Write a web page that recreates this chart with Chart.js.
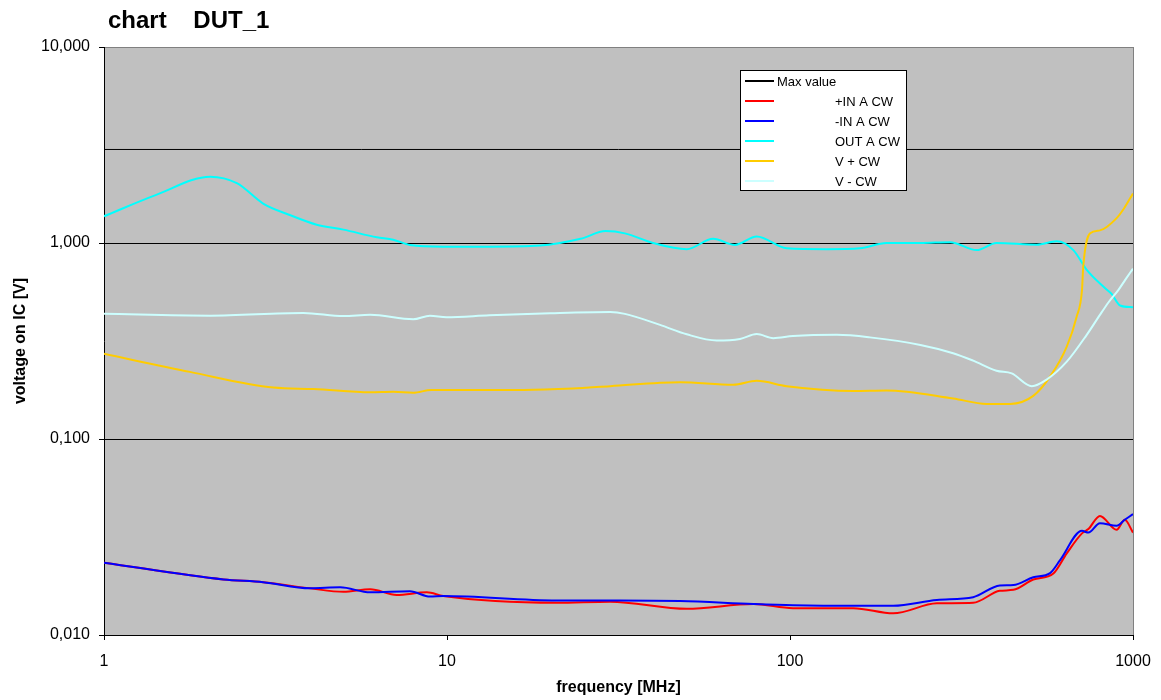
<!DOCTYPE html>
<html lang="en">
<head>
  <meta charset="utf-8">
  <title>chart DUT_1</title>
  <style>
    * { box-sizing: border-box; margin: 0; padding: 0; }
    html, body { background: #ffffff; }
    #chart { display: block; }
  </style>
  <script src="https://cdn.jsdelivr.net/npm/chart.js"></script>
</head>
<body>
  <canvas id="chart" width="1161" height="700"></canvas>
  <script>
    // Series (frequency in MHz, voltage in V)
    const seriesNames = ['Max value', '+IN A CW', '-IN A CW', 'OUT A CW', 'V + CW', 'V - CW'];
    const seriesColors = ['#000000', '#ff0000', '#0000ff', '#00ffff', '#ffcc00', '#ccffff'];

    const maxFreq = [1, 1000];
    const maxVal = [3, 3];

    const inPlusFreq = [1, 2.23, 2.91, 3.99, 4.99, 5.97, 7.13, 8.73, 9.75, 20.9, 29.9, 50, 78.2, 102, 153, 200, 268, 342, 409, 448, 512, 586, 641, 710, 741, 801, 896, 946, 1000];
    const inPlusVal = [0.0234, 0.0192, 0.0186, 0.0173, 0.0166, 0.0171, 0.016, 0.0165, 0.0158, 0.0146, 0.0148, 0.0136, 0.0144, 0.0137, 0.0137, 0.0129, 0.0145, 0.0146, 0.0168, 0.017, 0.0192, 0.0206, 0.0261, 0.033, 0.0347, 0.0405, 0.0344, 0.0387, 0.0333];

    const inMinusFreq = [1, 2.23, 2.91, 3.99, 4.88, 5.97, 7.8, 8.92, 9.75, 20.9, 31.9, 47.8, 78.2, 102, 153, 200, 268, 342, 409, 448, 512, 573, 613, 710, 741, 801, 896, 946, 1000];
    const inMinusVal = [0.0234, 0.0192, 0.0186, 0.0173, 0.0175, 0.0165, 0.0167, 0.0157, 0.0158, 0.015, 0.015, 0.0149, 0.0144, 0.0142, 0.0141, 0.0141, 0.0151, 0.0156, 0.0179, 0.018, 0.0197, 0.0207, 0.0241, 0.034, 0.0333, 0.0372, 0.0361, 0.0387, 0.0414];

    const outFreq = [1, 1.42, 2.04, 2.44, 2.91, 3.48, 4.17, 4.99, 6.24, 6.97, 7.8, 9.75, 13.3, 18.7, 24.5, 29, 33, 39.9, 50, 59.7, 69.1, 80, 97.8, 128, 160, 191, 240, 293, 350, 400, 524, 599, 670, 733, 828, 866, 917, 1000];
    const outVal = [1.37, 1.76, 2.18, 2.02, 1.59, 1.39, 1.24, 1.17, 1.07, 1.04, 0.977, 0.958, 0.958, 0.97, 1.05, 1.15, 1.12, 1.0, 0.93, 1.05, 0.977, 1.08, 0.94, 0.93, 0.94, 1.0, 1.0, 1.01, 0.92, 1.0, 0.98, 1.02, 0.92, 0.73, 0.59, 0.55, 0.48, 0.47];

    const vPlusFreq = [1, 1.78, 3.12, 4.08, 5.97, 6.97, 7.97, 9.0, 16.7, 23.3, 29.9, 47.8, 68.3, 80, 97.8, 153, 191, 299, 374, 438, 512, 573, 641, 685, 710, 716, 750, 801, 896, 941, 1000];
    const vPlusVal = [0.272, 0.22, 0.183, 0.18, 0.173, 0.174, 0.172, 0.178, 0.178, 0.181, 0.186, 0.195, 0.189, 0.198, 0.186, 0.176, 0.177, 0.161, 0.151, 0.151, 0.166, 0.208, 0.296, 0.421, 0.575, 0.757, 1.12, 1.16, 1.34, 1.5, 1.79];

    const vMinusFreq = [1, 2.04, 3.81, 4.99, 5.97, 7.97, 8.92, 9.96, 13.3, 20, 29.9, 33, 41.8, 50, 61.1, 71.5, 80, 89.4, 102, 137, 171, 240, 299, 342, 400, 443, 507, 560, 641, 733, 801, 850, 906, 950, 1000];
    const vMinusVal = [0.435, 0.426, 0.44, 0.424, 0.43, 0.408, 0.426, 0.418, 0.428, 0.438, 0.444, 0.435, 0.382, 0.342, 0.318, 0.324, 0.343, 0.327, 0.335, 0.34, 0.33, 0.302, 0.274, 0.251, 0.223, 0.216, 0.186, 0.201, 0.248, 0.34, 0.43, 0.5, 0.575, 0.65, 0.74];

    const xTicks = [1, 10, 100, 1000];
    const yTicks = [0.01, 0.1, 1, 10];

    const allFreq = [maxFreq, inPlusFreq, inMinusFreq, outFreq, vPlusFreq, vMinusFreq];
    const allVal = [maxVal, inPlusVal, inMinusVal, outVal, vPlusVal, vMinusVal];

    const FONT = "'Liberation Sans', Arial, sans-serif";

    function zip(xs, ys) { return xs.map((x, i) => ({ x: x, y: ys[i] })); }
    function fmtComma(v) { return v.toFixed(3).replace('.', ','); }

    const datasets = seriesNames.map((name, i) => ({
      label: name,
      data: zip(allFreq[i], allVal[i]),
      borderColor: seriesColors[i],
      borderWidth: i === 0 ? 1 : 2,
      pointRadius: 0,
      fill: false,
      cubicInterpolationMode: 'monotone',
      order: seriesNames.length - i
    }));

    // gray plot area, frame, title, axis titles and legend box
    const decor = {
      id: 'decor',
      beforeDraw(chart) {
        const { ctx, chartArea: a } = chart;
        ctx.save();
        ctx.fillStyle = '#ffffff';
        ctx.fillRect(0, 0, chart.width, chart.height);
        ctx.fillStyle = '#c0c0c0';
        ctx.fillRect(a.left, a.top, a.right - a.left, a.bottom - a.top);
        ctx.restore();
      },
      afterDraw(chart) {
        const { ctx, chartArea: a } = chart;
        ctx.save();
        // right frame edge
        ctx.strokeStyle = '#808080';
        ctx.lineWidth = 1;
        ctx.beginPath();
        ctx.moveTo(a.right + 0.5, a.top);
        ctx.lineTo(a.right + 0.5, a.bottom);
        ctx.stroke();

        // title
        ctx.fillStyle = '#000';
        ctx.font = 'bold 24px ' + FONT;
        ctx.textAlign = 'left';
        ctx.textBaseline = 'alphabetic';
        ctx.fillText('chart    DUT_1', 108, 28);

        // axis titles
        ctx.font = 'bold 16px ' + FONT;
        ctx.textAlign = 'center';
        ctx.textBaseline = 'middle';
        ctx.fillText('frequency [MHz]', (a.left + a.right) / 2, 688);
        ctx.save();
        ctx.translate(21, (a.top + a.bottom) / 2);
        ctx.rotate(-Math.PI / 2);
        ctx.fillText('voltage on IC [V]', 0, 0);
        ctx.restore();

        // legend box
        const bx = 740.5, by = 70.5, bw = 166, bh = 120;
        ctx.fillStyle = '#ffffff';
        ctx.fillRect(bx, by, bw, bh);
        ctx.strokeStyle = '#000';
        ctx.lineWidth = 1;
        ctx.strokeRect(bx, by, bw, bh);
        ctx.font = '13px ' + FONT;
        ctx.textAlign = 'left';
        ctx.textBaseline = 'middle';
        seriesNames.forEach((name, i) => {
          const y = 81 + i * 20;
          ctx.strokeStyle = seriesColors[i];
          ctx.lineWidth = 2;
          ctx.beginPath();
          ctx.moveTo(745, y);
          ctx.lineTo(774, y);
          ctx.stroke();
          ctx.fillStyle = '#000';
          ctx.fillText(name, i === 0 ? 777 : 835, y + 1);
        });
        ctx.restore();
      }
    };

    new Chart(document.getElementById('chart'), {
      type: 'line',
      data: { datasets: datasets },
      options: {
        responsive: false,
        animation: false,
        devicePixelRatio: 1,
        layout: { padding: { top: 47, right: 28, left: 0, bottom: 0 } },
        plugins: { legend: { display: false }, tooltip: { enabled: false }, title: { display: false } },
        scales: {
          x: {
            type: 'logarithmic',
            min: 1,
            max: 1000,
            afterBuildTicks: s => { s.ticks = xTicks.map(v => ({ value: v })); },
            afterFit: s => { s.height = 65; s.paddingLeft = 0; s.paddingRight = 0; },
            ticks: {
              color: '#000',
              font: { family: FONT, size: 16 },
              padding: 12,
              maxRotation: 0,
              autoSkip: false,
              callback: v => String(v)
            },
            grid: { drawOnChartArea: false, drawTicks: true, tickLength: 5, tickColor: '#000' },
            border: { color: '#000', width: 1 }
          },
          y: {
            type: 'logarithmic',
            min: 0.01,
            max: 10,
            afterBuildTicks: s => { s.ticks = yTicks.map(v => ({ value: v })); },
            afterFit: s => { s.width = 104; s.paddingTop = 0; s.paddingBottom = 0; },
            ticks: {
              color: '#000',
              font: { family: FONT, size: 16 },
              padding: 9,
              autoSkip: false,
              callback: v => fmtComma(v)
            },
            grid: {
              color: c => (c.tick && c.tick.value === 10 ? '#808080' : '#000'),
              lineWidth: 1,
              drawTicks: true,
              tickLength: 5,
              tickColor: '#000'
            },
            border: { color: '#000', width: 1 }
          }
        }
      },
      plugins: [decor]
    });
  </script>
</body>
</html>
